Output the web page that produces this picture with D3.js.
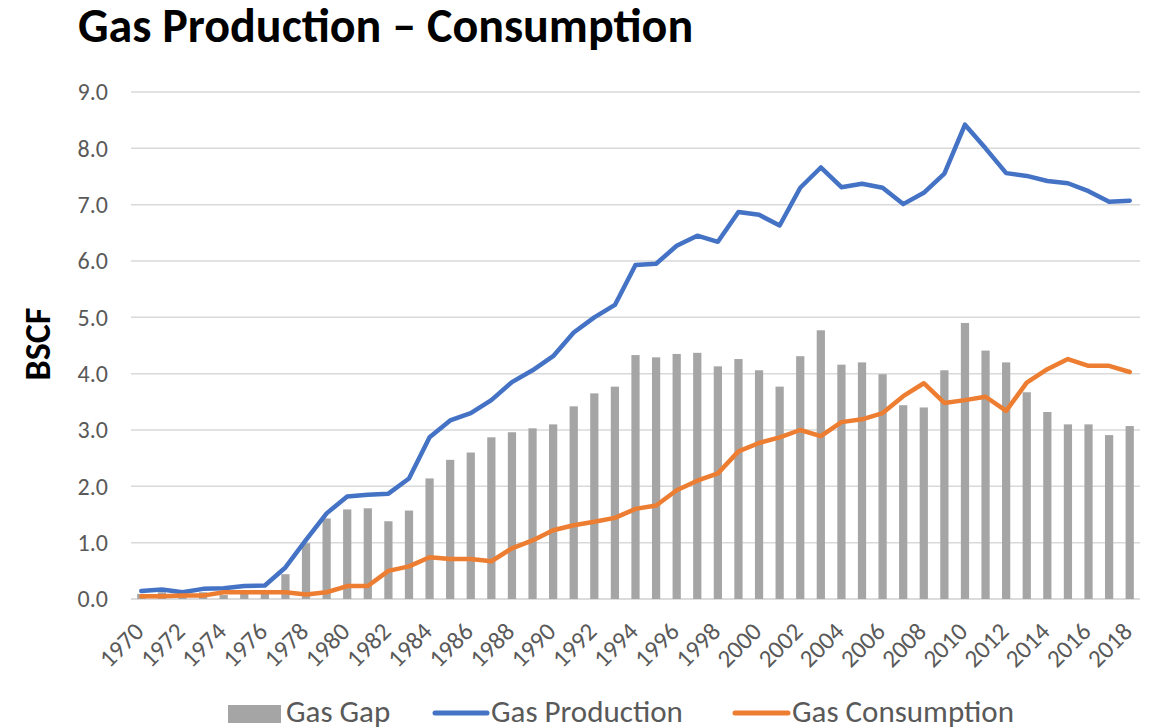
<!DOCTYPE html>
<html><head><meta charset="utf-8">
<script src="https://cdn.jsdelivr.net/npm/d3@7"></script>
<style>body{margin:0;background:#fff}svg{display:block}</style>
</head><body>
<script>
const years = d3.range(1970, 2019).map(String);
const production = [0.14,0.17,0.12,0.18,0.19,0.23,0.24,0.56,1.05,1.52,1.82,1.85,1.87,2.14,2.87,3.17,3.30,3.53,3.85,4.06,4.31,4.73,5.00,5.22,5.93,5.95,6.27,6.45,6.34,6.87,6.82,6.63,7.30,7.66,7.31,7.37,7.30,7.01,7.21,7.55,8.42,8.00,7.56,7.51,7.42,7.38,7.24,7.05,7.07];
const consumption = [0.05,0.05,0.06,0.06,0.12,0.12,0.12,0.12,0.08,0.12,0.23,0.23,0.50,0.58,0.74,0.71,0.71,0.67,0.90,1.04,1.22,1.31,1.37,1.44,1.60,1.66,1.93,2.10,2.23,2.62,2.77,2.87,3.00,2.89,3.14,3.19,3.30,3.60,3.83,3.48,3.53,3.59,3.34,3.84,4.08,4.26,4.14,4.14,4.03];
const gap = [0.09,0.12,0.06,0.12,0.07,0.11,0.12,0.44,0.99,1.43,1.59,1.61,1.38,1.57,2.14,2.47,2.60,2.87,2.96,3.03,3.10,3.42,3.65,3.77,4.33,4.29,4.35,4.37,4.13,4.26,4.06,3.77,4.31,4.77,4.16,4.20,3.99,3.44,3.40,4.06,4.90,4.41,4.20,3.67,3.32,3.10,3.10,2.91,3.07];
const yTicks = [0,1,2,3,4,5,6,7,8,9];
const tickYears = years.filter((d,i)=>i%2===0);
const seriesNames = ["Gas Gap","Gas Production","Gas Consumption"];

const W=1151,H=728;
const svg=d3.select("body").append("svg").attr("width",W).attr("height",H);
const pL=131,pR=1140,pT=92,pB=599;
const font="Calibri, Carlito, 'Open Sans', sans-serif";
const x=d3.scaleBand().domain(years).range([pL,pR]).paddingInner(0.6).paddingOuter(0.3);
const xc=d=>x(d)+x.bandwidth()/2;
const y=d3.scaleLinear().domain([0,9]).range([pB,pT]);

svg.append("text").attr("x",78).attr("y",42).attr("font-family",font).attr("font-weight","bold")
 .attr("font-size",48).attr("fill","#000").text("Gas Production – Consumption");

// grid
svg.append("g").selectAll("line").data(yTicks).join("line")
 .attr("x1",pL).attr("x2",pR).attr("y1",d=>y(d)).attr("y2",d=>y(d))
 .attr("stroke",d=>d===0?"#D0D0D0":"#D9D9D9").attr("stroke-width",1.5);

// y axis labels
const ya=svg.append("g").attr("transform",`translate(${pL-20},0)`)
 .call(d3.axisLeft(y).tickValues(yTicks).tickFormat(d3.format(".1f")).tickSize(0));
ya.select(".domain").remove();
ya.selectAll("text").attr("font-family",font).attr("font-size",24).attr("fill","#595959");

// bars
svg.append("g").selectAll("rect").data(years).join("rect")
 .attr("x",d=>x(d)).attr("width",x.bandwidth())
 .attr("y",(d,i)=>y(gap[i])).attr("height",(d,i)=>y(0)-y(gap[i])).attr("fill","#A5A5A5");

const line=d3.line().x((d,i)=>xc(years[i])).y(d=>y(d));
svg.append("path").datum(production).attr("d",line).attr("fill","none").attr("stroke","#4472C4")
 .attr("stroke-width",4.5).attr("stroke-linejoin","round").attr("stroke-linecap","round");
svg.append("path").datum(consumption).attr("d",line).attr("fill","none").attr("stroke","#ED7D31")
 .attr("stroke-width",4.5).attr("stroke-linejoin","round").attr("stroke-linecap","round");

// x axis
const xa=svg.append("g").attr("transform",`translate(0,${pB})`)
 .call(d3.axisBottom(x).tickValues(tickYears).tickSize(0));
xa.select(".domain").remove();
xa.selectAll("text").attr("font-family",font).attr("font-size",25).attr("fill","#595959")
 .attr("text-anchor","end").attr("dy",null).attr("y",0)
 .attr("transform","translate(4,34) rotate(-45)");

// y title
svg.append("text").attr("transform","translate(50,344) rotate(-90)").attr("text-anchor","middle")
 .attr("font-family",font).attr("font-weight","bold").attr("font-size",36).attr("fill","#000").text("BSCF");

// legend
const lg=svg.append("g").attr("font-family",font).attr("font-size",31).attr("fill","#595959");
lg.append("rect").attr("x",228).attr("y",705).attr("width",53).attr("height",18).attr("fill","#A5A5A5");
lg.append("text").attr("x",286).attr("y",722).text(seriesNames[0]);
lg.append("line").attr("x1",435).attr("x2",487).attr("y1",713).attr("y2",713).attr("stroke","#4472C4").attr("stroke-width",5).attr("stroke-linecap","round");
lg.append("text").attr("x",491).attr("y",722).text(seriesNames[1]);
lg.append("line").attr("x1",735).attr("x2",788).attr("y1",713).attr("y2",713).attr("stroke","#ED7D31").attr("stroke-width",5).attr("stroke-linecap","round");
lg.append("text").attr("x",792).attr("y",722).text(seriesNames[2]);
</script>
</body></html>
